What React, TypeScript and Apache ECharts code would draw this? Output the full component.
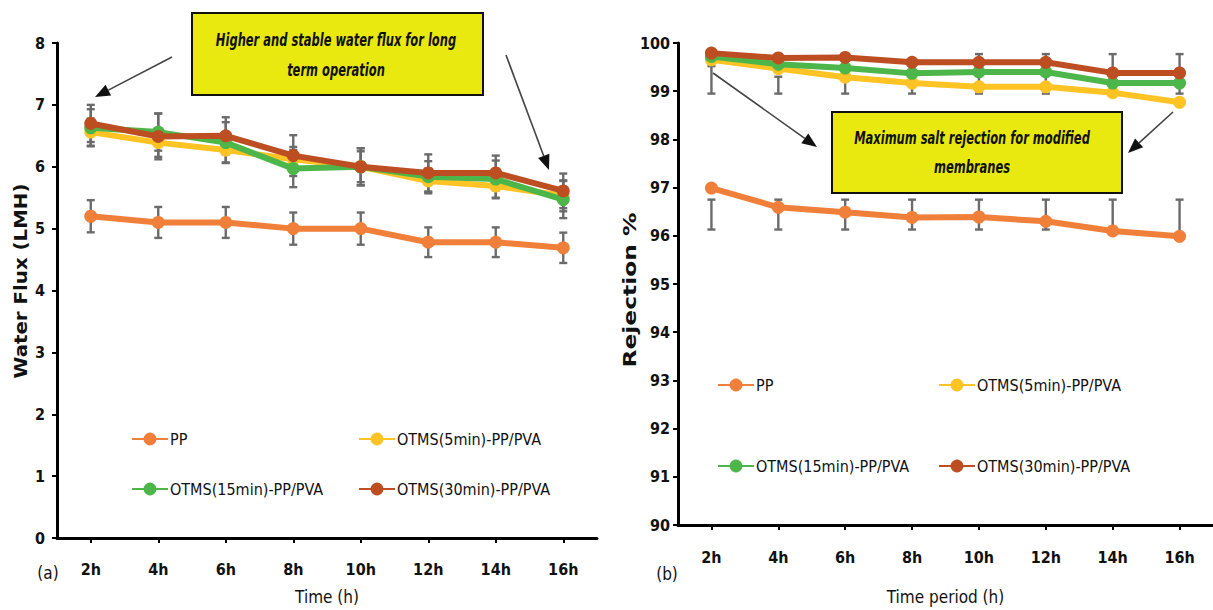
import React, { useEffect, useRef } from "react";
import * as echarts from "echarts";

const categories = ["2h", "4h", "6h", "8h", "10h", "12h", "14h", "16h"];
const seriesNames = ["PP", "OTMS(5min)-PP/PVA", "OTMS(15min)-PP/PVA", "OTMS(30min)-PP/PVA"];
const colors = ["#F07F3A", "#FFC324", "#4DB64A", "#BD4E22"];

// (a) Water flux (LMH)
const fluxPP = [5.2, 5.1, 5.1, 5.0, 5.0, 4.78, 4.78, 4.69];
const flux5 = [6.56, 6.39, 6.27, 6.12, 6.0, 5.77, 5.69, 5.53];
const flux15 = [6.63, 6.56, 6.39, 5.97, 6.0, 5.84, 5.8, 5.47];
const flux30 = [6.7, 6.49, 6.5, 6.18, 6.0, 5.9, 5.9, 5.61];
const fluxErrPP = [0.26, 0.25, 0.25, 0.26, 0.26, 0.24, 0.24, 0.245];
const fluxErr5 = [0.22, 0.23, 0.2, 0.2, 0.25, 0.2, 0.2, 0.25];
const fluxErr15 = [0.3, 0.3, 0.33, 0.3, 0.3, 0.25, 0.3, 0.3];
const fluxErr30 = [0.3, 0.37, 0.3, 0.33, 0.3, 0.3, 0.28, 0.28];

// (b) Rejection %
const rejPP = [96.99, 96.59, 96.49, 96.38, 96.39, 96.3, 96.1, 95.99];
const rej5 = [99.65, 99.47, 99.29, 99.17, 99.09, 99.09, 98.97, 98.77];
const rej15 = [99.72, 99.56, 99.48, 99.37, 99.4, 99.4, 99.17, 99.17];
const rej30 = [99.79, 99.69, 99.7, 99.6, 99.6, 99.6, 99.38, 99.38];
const rejModErrHigh = [99.52, 99.3, 99.3, 99.58, 99.77, 99.77, 99.77, 99.77];
const rejModErrLow = [98.95, 98.95, 98.95, 98.95, 98.95, 98.95, 98.95, 98.95];
const rejPPErrHigh = [96.75, 96.75, 96.75, 96.75, 96.75, 96.75, 96.75, 96.75];
const rejPPErrLow = [96.13, 96.13, 96.13, 96.13, 96.13, 96.13, 96.1, 96.0];

const yTicksFlux = { min: 0, max: 8, interval: 1 };
const yTicksRej = { min: 90, max: 100, interval: 1 };

const NARROW = '"Liberation Sans Narrow", "DejaVu Sans Condensed", "Open Sans", sans-serif';
const WIDE = '"DejaVu Sans", Verdana, sans-serif';

function arrow(x1: number, y1: number, x2: number, y2: number, len = 15, half = 6) {
  const dx = x2 - x1, dy = y2 - y1;
  const L = Math.sqrt(dx * dx + dy * dy);
  const ux = dx / L, uy = dy / L;
  const bx = x2 - ux * len, by = y2 - uy * len;
  const px = -uy, py = ux;
  return [
    { type: "line", shape: { x1, y1, x2: bx, y2: by }, style: { stroke: "#444", lineWidth: 1.6 }, z: 50 },
    {
      type: "polygon",
      shape: { points: [[x2, y2], [bx + px * half, by + py * half], [bx - px * half, by - py * half]] },
      style: { fill: "#111" },
      z: 50,
    },
  ];
}

function errRender(params: any, api: any) {
  const x = api.value(0);
  const lo = api.coord([x, api.value(1)]);
  const hi = api.coord([x, api.value(2)]);
  const w = 4;
  const st = { stroke: "#6b6b6b", lineWidth: 2.4 };
  return {
    type: "group",
    children: [
      { type: "line", shape: { x1: lo[0], y1: lo[1], x2: hi[0], y2: hi[1] }, style: st },
      { type: "line", shape: { x1: lo[0] - w, y1: lo[1], x2: lo[0] + w, y2: lo[1] }, style: st },
      { type: "line", shape: { x1: hi[0] - w, y1: hi[1], x2: hi[0] + w, y2: hi[1] }, style: st },
    ],
  };
}

function symErr(vals: number[], errs: number[]) {
  return vals.map((v, i) => [i, v - errs[i], v + errs[i]]);
}
function rangeErr(lo: number[], hi: number[]) {
  return lo.map((v, i) => [i, v, hi[i]]);
}

function noteText(text: string, x: number, y: number, sx: number) {
  return {
    type: "text",
    x,
    y,
    scaleX: sx,
    style: {
      text,
      font: `italic bold 18px ${NARROW}`,
      fill: "#111",
      align: "center",
      verticalAlign: "middle",
    },
    z: 41,
  };
}

function axisTitle(text: string, x: number, y: number, sx: number) {
  return {
    type: "text",
    x,
    y,
    rotation: Math.PI / 2,
    scaleX: sx,
    style: {
      text,
      font: `bold 18px ${WIDE}`,
      fill: "#111",
      align: "center",
      verticalAlign: "middle",
    },
  };
}

export default function App() {
  const ref = useRef<HTMLDivElement>(null);
  useEffect(() => {
    if (!ref.current) return;
    const chart = echarts.init(ref.current, undefined, { renderer: "svg" });

    const axisLine = { show: true, lineStyle: { color: "#000", width: 3 } };
    const axisTick = { show: true, length: 5, lineStyle: { color: "#000", width: 2 } };
    const xLabel = { fontFamily: NARROW, fontSize: 16, fontWeight: "bold", color: "#111", margin: 23 };
    const yLabel = { fontFamily: NARROW, fontSize: 16, fontWeight: "bold", color: "#111" };

    const fluxSets = [fluxPP, flux5, flux15, flux30];
    const rejSets = [rejPP, rej5, rej15, rej30];

    const lineSeries = (data: number[], idx: number, axis: number) => ({
      type: "line",
      name: seriesNames[idx],
      data,
      xAxisIndex: axis,
      yAxisIndex: axis,
      symbol: "circle",
      symbolSize: 13,
      lineStyle: { color: colors[idx], width: 6 },
      itemStyle: { color: colors[idx] },
      z: 3 + idx,
    });

    const errSeries = (data: number[][], axis: number) => ({
      type: "custom",
      xAxisIndex: axis,
      yAxisIndex: axis,
      renderItem: errRender,
      data,
      encode: { x: 0, y: [1, 2] },
      z: 2,
      silent: true,
    });

    const legendPos = [
      { left: 131, top: 431 },
      { left: 358, top: 431 },
      { left: 131, top: 481 },
      { left: 358, top: 481 },
      { left: 717, top: 377 },
      { left: 938, top: 377 },
      { left: 717, top: 458 },
      { left: 938, top: 458 },
    ];
    const legends = legendPos.map((p, i) => ({
      data: [seriesNames[i % 4]],
      left: p.left,
      top: p.top,
      padding: 0,
      itemWidth: 36,
      itemHeight: 16,
      itemGap: 2,
      selectedMode: false,
      textStyle: { fontFamily: NARROW, fontSize: 16, color: "#111", padding: [0, 0, 0, -3] },
    }));

    const option: any = {
      animation: false,
      backgroundColor: "#fff",
      legend: legends,
      grid: [
        { left: 57, top: 43, width: 540, height: 496 },
        { left: 678, top: 43, width: 543, height: 483 },
      ],
      xAxis: [
        {
          type: "category",
          gridIndex: 0,
          data: categories,
          boundaryGap: true,
          axisLine,
          axisTick: { ...axisTick, alignWithLabel: true },
          axisLabel: xLabel,
          name: "Time (h)",
          nameLocation: "middle",
          nameGap: 50,
          nameTextStyle: { fontFamily: NARROW, fontSize: 17, color: "#111", verticalAlign: "top" },
        },
        {
          type: "category",
          gridIndex: 1,
          data: categories,
          boundaryGap: true,
          axisLine,
          axisTick: { ...axisTick, alignWithLabel: true },
          axisLabel: { ...xLabel, margin: 24 },
          name: "Time period (h)",
          nameLocation: "middle",
          nameGap: 63,
          nameTextStyle: { fontFamily: NARROW, fontSize: 17, color: "#111", verticalAlign: "top" },
        },
      ],
      yAxis: [
        {
          type: "value",
          gridIndex: 0,
          ...yTicksFlux,
          axisLine,
          axisTick,
          splitLine: { show: false },
          axisLabel: { ...yLabel, margin: 12 },
        },
        {
          type: "value",
          gridIndex: 1,
          ...yTicksRej,
          axisLine,
          axisTick,
          splitLine: { show: false },
          axisLabel: { ...yLabel, margin: 8 },
        },
      ],
      series: [
        errSeries(symErr(fluxPP, fluxErrPP), 0),
        errSeries(symErr(flux5, fluxErr5), 0),
        errSeries(symErr(flux15, fluxErr15), 0),
        errSeries(symErr(flux30, fluxErr30), 0),
        errSeries(rangeErr(rejModErrLow, rejModErrHigh), 1),
        errSeries(rangeErr(rejPPErrLow, rejPPErrHigh), 1),
        ...fluxSets.map((d, i) => lineSeries(d, i, 0)),
        ...rejSets.map((d, i) => lineSeries(d, i, 1)),
      ],
      graphic: [
        axisTitle("Water Flux (LMH)", 20, 281, 1.1),
        axisTitle("Rejection %", 630, 290, 1.3),
        {
          type: "rect",
          shape: { x: 192, y: 13, width: 291, height: 82 },
          style: { fill: "#E9E90F", stroke: "#111", lineWidth: 2 },
          z: 40,
        },
        noteText("Higher and stable water flux for long", 336, 40, 0.71),
        noteText("term operation", 336, 70, 0.71),
        ...arrow(172, 57, 95, 97),
        ...arrow(506, 55, 549, 170),
        {
          type: "rect",
          shape: { x: 832, y: 112, width: 290, height: 81 },
          style: { fill: "#E9E90F", stroke: "#111", lineWidth: 2 },
          z: 40,
        },
        noteText("Maximum salt rejection for modified", 972, 138, 0.71),
        noteText("membranes", 972, 167, 0.71),
        ...arrow(713, 73, 817, 147),
        ...arrow(1173, 112, 1128, 153),
        {
          type: "text",
          x: 48,
          y: 573,
          style: { text: "(a)", font: `17px ${NARROW}`, fill: "#111", align: "center", verticalAlign: "middle" },
        },
        {
          type: "text",
          x: 667,
          y: 574,
          style: { text: "(b)", font: `17px ${NARROW}`, fill: "#111", align: "center", verticalAlign: "middle" },
        },
      ],
    };
    chart.setOption(option);
    return () => chart.dispose();
  }, []);
  return (
    <div
      ref={ref}
      style={{ position: "absolute", left: 0, top: 0, width: 1213, height: 610, background: "#fff" }}
    />
  );
}
